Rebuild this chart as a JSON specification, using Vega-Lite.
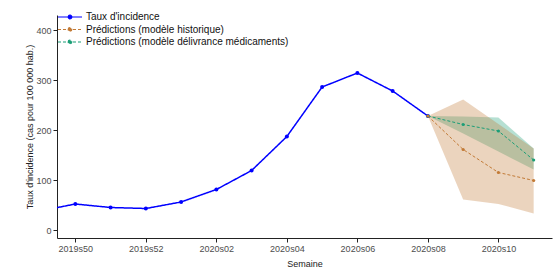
{
  "$schema": "https://vega.github.io/schema/vega-lite/v6.json",
  "autosize": {"type": "none"},
  "width": 495,
  "height": 223,
  "padding": {"left": 57, "top": 15, "right": 8, "bottom": 33},
  "background": "white",
  "config": {
    "view": {"stroke": null},
    "font": "Liberation Sans",
    "axis": {
      "grid": false,
      "domainColor": "#222222",
      "domainWidth": 1,
      "tickColor": "#222222",
      "tickSize": 4,
      "labelColor": "#4D4D4D",
      "labelFont": "Liberation Sans",
      "labelFontSize": 9,
      "labelPadding": 2,
      "titleFont": "Liberation Sans",
      "titleFontSize": 9,
      "titleFontWeight": "normal",
      "titleColor": "#222222"
    }
  },
  "datasets": {
    "obs": [
      {"x": -1, "semaine": "2019s49", "taux": 38, "serie": "Taux d'incidence"},
      {"x": 0, "semaine": "2019s50", "taux": 52, "serie": "Taux d'incidence"},
      {"x": 1, "semaine": "2019s51", "taux": 45, "serie": "Taux d'incidence"},
      {"x": 2, "semaine": "2019s52", "taux": 43, "serie": "Taux d'incidence"},
      {"x": 3, "semaine": "2020s01", "taux": 56, "serie": "Taux d'incidence"},
      {"x": 4, "semaine": "2020s02", "taux": 81, "serie": "Taux d'incidence"},
      {"x": 5, "semaine": "2020s03", "taux": 119, "serie": "Taux d'incidence"},
      {"x": 6, "semaine": "2020s04", "taux": 187, "serie": "Taux d'incidence"},
      {"x": 7, "semaine": "2020s05", "taux": 286, "serie": "Taux d'incidence"},
      {"x": 8, "semaine": "2020s06", "taux": 314, "serie": "Taux d'incidence"},
      {"x": 9, "semaine": "2020s07", "taux": 278, "serie": "Taux d'incidence"},
      {"x": 10, "semaine": "2020s08", "taux": 228, "serie": "Taux d'incidence"}
    ],
    "preds": [
      {"x": 10, "semaine": "2020s08", "taux": 228, "bas": 228, "haut": 228, "serie": "Prédictions (modèle délivrance médicaments)"},
      {"x": 11, "semaine": "2020s09", "taux": 211, "bas": 193, "haut": 227, "serie": "Prédictions (modèle délivrance médicaments)"},
      {"x": 12, "semaine": "2020s10", "taux": 198, "bas": 157, "haut": 225, "serie": "Prédictions (modèle délivrance médicaments)"},
      {"x": 13, "semaine": "2020s11", "taux": 140, "bas": 121, "haut": 163, "serie": "Prédictions (modèle délivrance médicaments)"},
      {"x": 10, "semaine": "2020s08", "taux": 228, "bas": 228, "haut": 228, "serie": "Prédictions (modèle historique)"},
      {"x": 11, "semaine": "2020s09", "taux": 161, "bas": 61, "haut": 261, "serie": "Prédictions (modèle historique)"},
      {"x": 12, "semaine": "2020s10", "taux": 115, "bas": 52, "haut": 212, "serie": "Prédictions (modèle historique)"},
      {"x": 13, "semaine": "2020s11", "taux": 99, "bas": 33, "haut": 163, "serie": "Prédictions (modèle historique)"}
    ]
  },
  "layer": [
    {
      "data": {"name": "preds"},
      "mark": {"type": "area", "opacity": 0.32, "clip": true},
      "encoding": {
        "x": {"field": "x", "type": "quantitative"},
        "y": {"field": "bas", "type": "quantitative"},
        "y2": {"field": "haut"},
        "fill": {
          "field": "serie", "type": "nominal", "legend": null,
          "scale": {
            "domain": ["Prédictions (modèle délivrance médicaments)", "Prédictions (modèle historique)"],
            "range": ["#1B9E77", "#C27A36"]
          }
        },
        "order": {"field": "serie", "sort": "ascending"}
      }
    },
    {
      "data": {"name": "obs"},
      "mark": {"type": "line", "strokeWidth": 1.5, "clip": true, "point": {"filled": true, "size": 16}},
      "encoding": {
        "x": {
          "field": "x", "type": "quantitative",
          "scale": {"domain": [-0.52, 13.52], "nice": false, "zero": false},
          "axis": {
            "title": "Semaine",
            "values": [0, 2, 4, 6, 8, 10, 12],
            "labelExpr": "datum.value < 3 ? '2019s' + (datum.value + 50) : '2020s' + (datum.value - 2 < 10 ? '0' : '') + (datum.value - 2)",
            "titlePadding": 6
          }
        },
        "y": {
          "field": "taux", "type": "quantitative",
          "scale": {"domain": [-16, 430], "nice": false, "zero": false},
          "axis": {
            "title": "Taux d'incidence (cas pour 100 000 hab.)",
            "values": [0, 100, 200, 300, 400],
            "titlePadding": 1
          }
        },
        "color": {
          "field": "serie", "type": "nominal",
          "scale": {
            "domain": ["Taux d'incidence", "Prédictions (modèle historique)", "Prédictions (modèle délivrance médicaments)"],
            "range": ["#0000FF", "#C27A36", "#1B9E77"]
          },
          "legend": {
            "title": null,
            "orient": "none",
            "legendX": 6,
            "legendY": -5,
            "padding": 0,
            "symbolType": "M-2,0H2M-0.3,0A0.3,0.3,0,1,1,0.3,0A0.3,0.3,0,1,1,-0.3,0",
            "symbolSize": 144,
            "symbolStrokeWidth": 1.2,
            "labelOffset": 9,
            "labelFontSize": 10,
            "labelLimit": 400,
            "labelColor": "#111111",
            "labelFont": "Liberation Sans",
            "rowPadding": 0.5
          }
        },
        "strokeDash": {
          "field": "serie", "type": "nominal",
          "scale": {
            "domain": ["Taux d'incidence", "Prédictions (modèle historique)", "Prédictions (modèle délivrance médicaments)"],
            "range": [[1, 0], [3, 2], [3, 2]]
          },
          "legend": {
            "title": null,
            "orient": "none",
            "legendX": 6,
            "legendY": -5,
            "padding": 0,
            "symbolType": "M-2,0H2M-0.3,0A0.3,0.3,0,1,1,0.3,0A0.3,0.3,0,1,1,-0.3,0",
            "symbolSize": 144,
            "symbolStrokeWidth": 1.2,
            "labelOffset": 9,
            "labelFontSize": 10,
            "labelLimit": 400,
            "labelColor": "#111111",
            "labelFont": "Liberation Sans",
            "rowPadding": 0.5
          }
        }
      }
    },
    {
      "data": {"name": "preds"},
      "mark": {"type": "line", "strokeWidth": 1, "clip": true, "point": {"filled": true, "size": 10}},
      "encoding": {
        "x": {"field": "x", "type": "quantitative"},
        "y": {"field": "taux", "type": "quantitative"},
        "color": {"field": "serie", "type": "nominal"},
        "strokeDash": {"field": "serie", "type": "nominal"}
      }
    }
  ]
}
